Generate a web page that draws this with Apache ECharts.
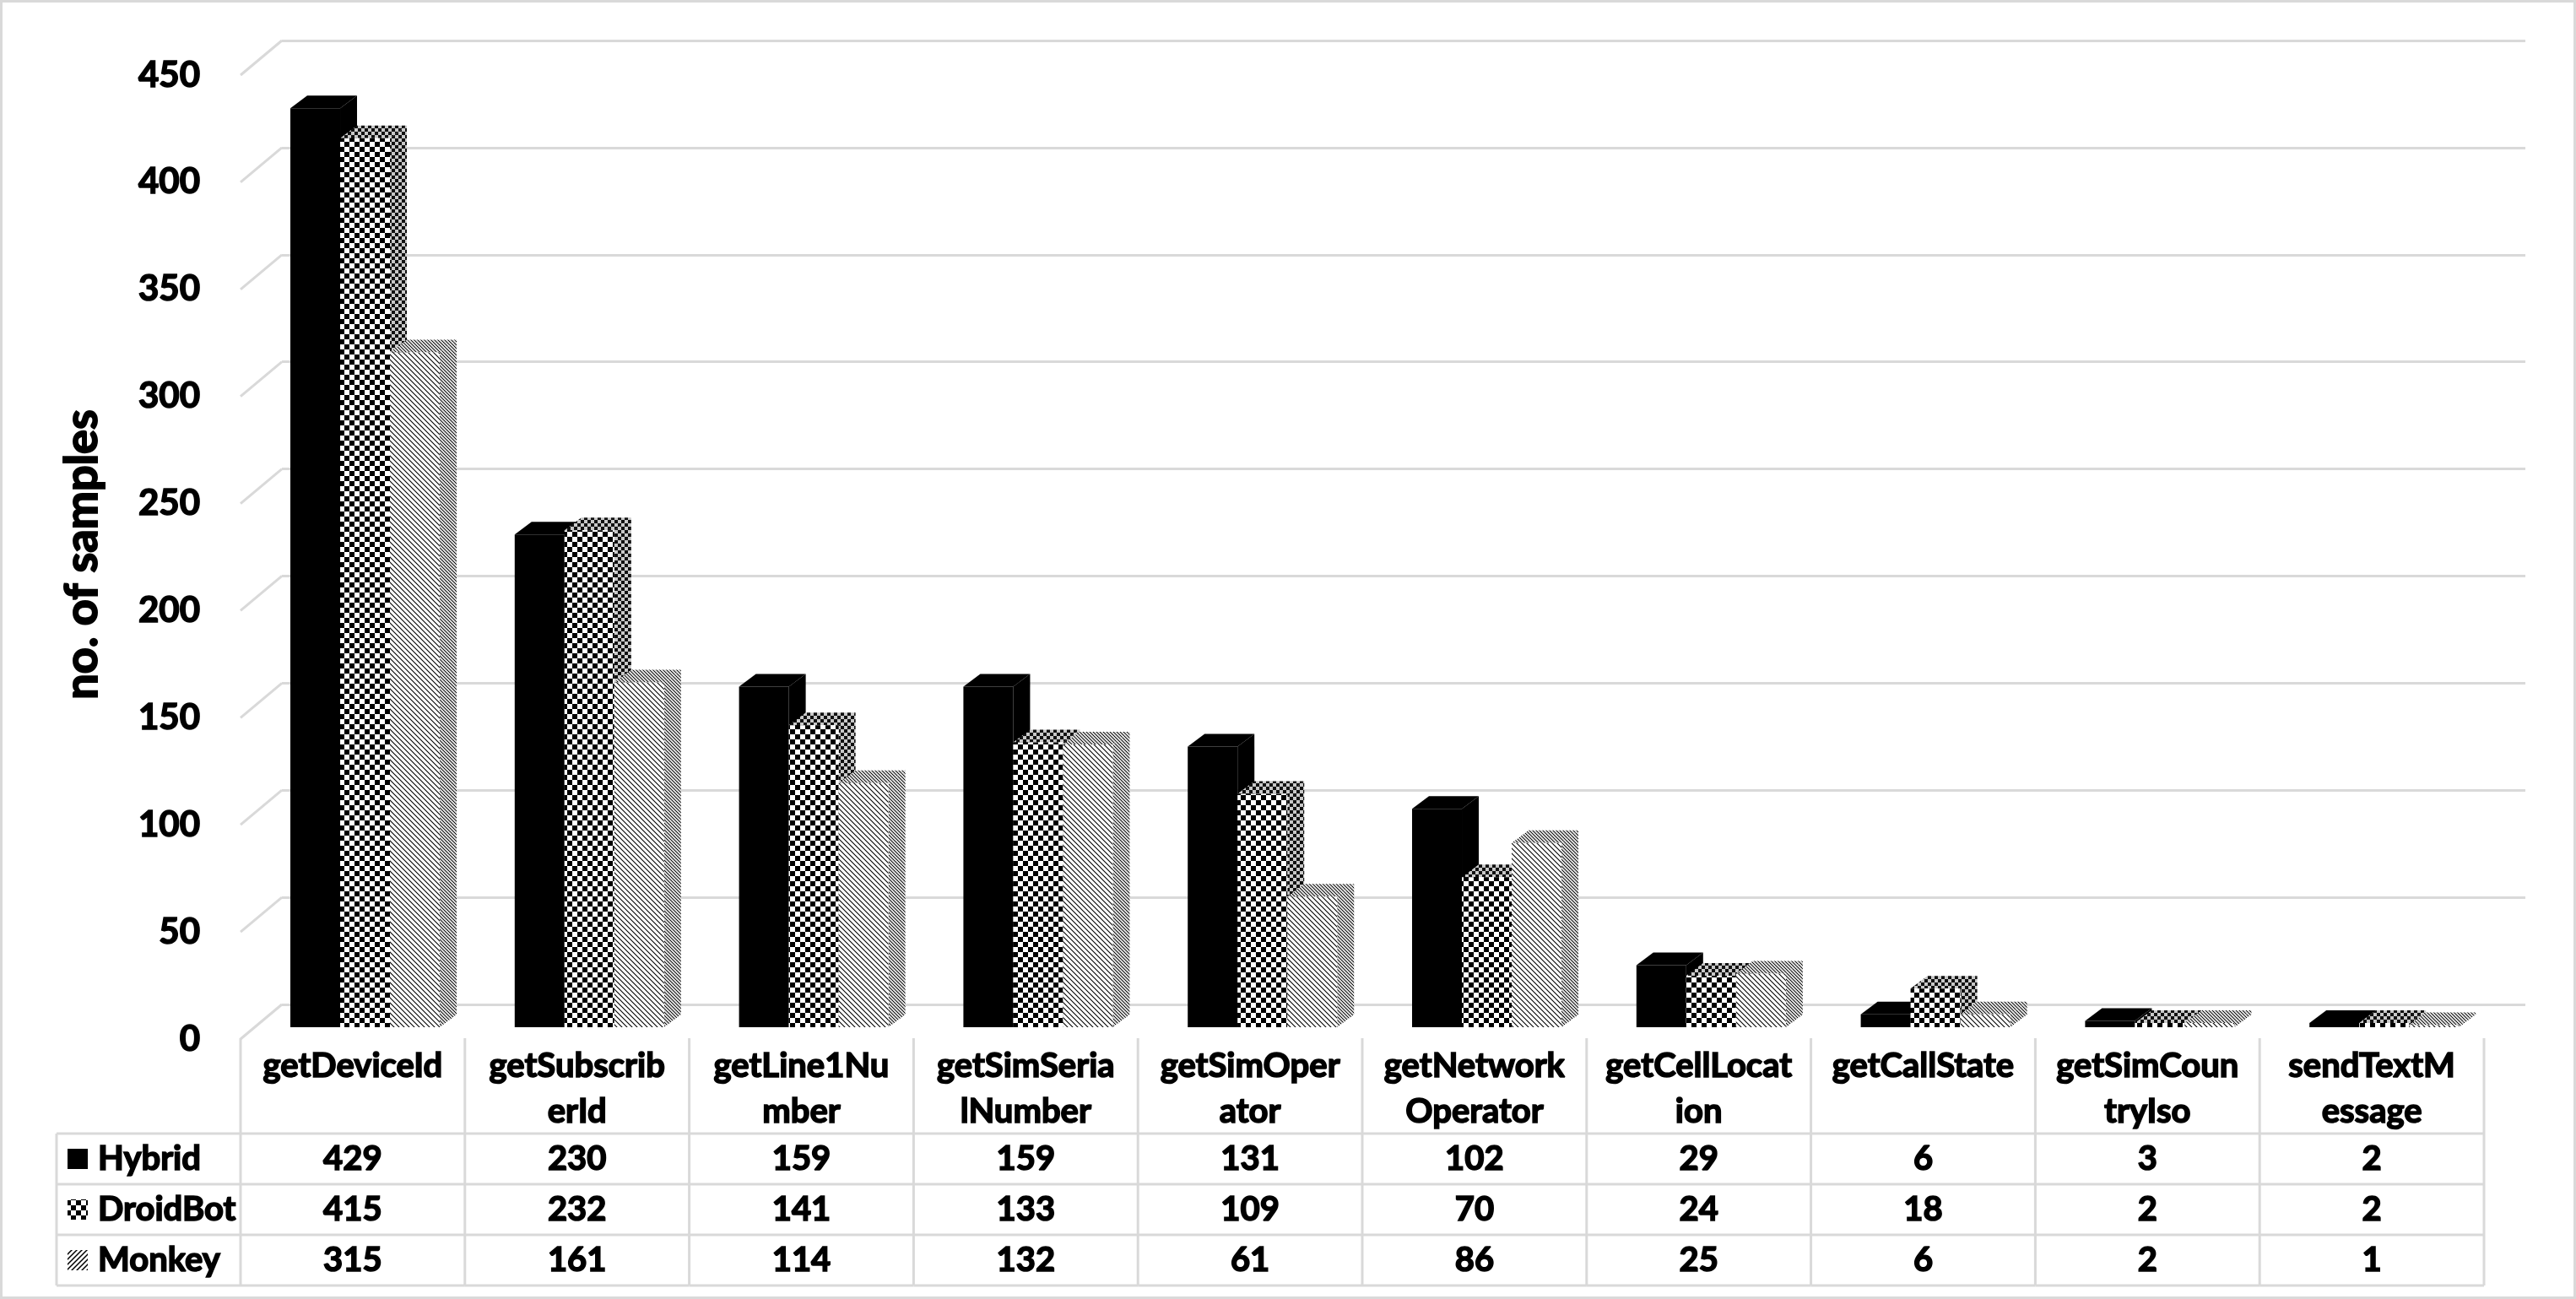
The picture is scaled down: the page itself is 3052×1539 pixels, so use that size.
<!DOCTYPE html>
<html>
<head>
<meta charset="utf-8">
<title>no. of samples</title>
<script src="https://cdn.jsdelivr.net/npm/echarts/dist/echarts.min.js"></script>
<style>
  html, body { margin: 0; padding: 0; background: #fff; }
  #main { width: 3052px; height: 1539px; }
</style>
</head>
<body>
<div id="main"></div>
<script>
// data
const categories = ['getDeviceId', 'getSubscriberId', 'getLine1Number', 'getSimSerialNumber', 'getSimOperator',
  'getNetworkOperator', 'getCellLocation', 'getCallState', 'getSimCountryIso', 'sendTextMessage'];
const headerLabels = ['getDeviceId', 'getSubscrib\nerId', 'getLine1Nu\nmber', 'getSimSeria\nlNumber', 'getSimOper\nator',
  'getNetwork\nOperator', 'getCellLocat\nion', 'getCallState', 'getSimCoun\ntryIso', 'sendTextM\nessage'];
const seriesNames = ['Hybrid', 'DroidBot', 'Monkey'];
const hybrid = [429, 230, 159, 159, 131, 102, 29, 6, 3, 2];
const droidBot = [415, 232, 141, 133, 109, 70, 24, 18, 2, 2];
const monkey = [315, 161, 114, 132, 61, 86, 25, 6, 2, 1];
const yTicks = [0, 50, 100, 150, 200, 250, 300, 350, 400, 450];

const FONT = 'Lato, "Open Sans", "Noto Sans", sans-serif';
const TXT = 'bold 40px ' + FONT;
const HEAVY = 1.6;   // stroke to make the bold text a bit heavier
const GRID_COLOR = '#d9d9d9';

// fill patterns
function makeCanvas(w, h, draw) {
  const c = document.createElement('canvas');
  c.width = w; c.height = h;
  draw(c.getContext('2d'), w, h);
  return c;
}
function pattern(c) { return { image: c, repeat: 'repeat' }; }

const patChecker = pattern(makeCanvas(12, 12, function (ctx) {
  ctx.fillStyle = '#fff'; ctx.fillRect(0, 0, 12, 12);
  ctx.fillStyle = '#000'; ctx.fillRect(0, 0, 6, 6); ctx.fillRect(6, 6, 6, 6);
}));
const patCheckerSide = pattern(makeCanvas(8, 8, function (ctx) {
  ctx.fillStyle = '#c8c8c8'; ctx.fillRect(0, 0, 8, 8);
  ctx.fillStyle = '#111'; ctx.fillRect(0, 0, 4, 4); ctx.fillRect(4, 4, 4, 4);
}));
function stripes(size, bg, lw, forward) {
  return pattern(makeCanvas(size, size, function (ctx) {
    ctx.fillStyle = bg; ctx.fillRect(0, 0, size, size);
    ctx.strokeStyle = '#000'; ctx.lineWidth = lw;
    ctx.beginPath();
    [-size, 0, size, 2 * size].forEach(function (k) {
      if (forward) { ctx.moveTo(k + 1, -1); ctx.lineTo(k - size - 1, size + 1); }
      else { ctx.moveTo(k - 1, -1); ctx.lineTo(k + size + 1, size + 1); }
    });
    ctx.stroke();
  }));
}
const patStripe = stripes(6, '#fff', 1.1, false);
const patStripeFwd = stripes(6, '#fff', 1.5, true);
const patStripeSide = stripes(4, '#d0d0d0', 1, false);

const faces = [
  { front: '#000', top: '#000', side: '#000', key: '#000' },
  { front: patChecker, top: patCheckerSide, side: patCheckerSide, key: patChecker },
  { front: patStripe, top: patStripeSide, side: patStripeSide, key: patStripeFwd }
];

// 3d look
const DEPTH_X = 20, DEPTH_Y = -15;   // bar depth
const BAR_LIFT = 14;                 // bars sit a bit behind the front plane
const WALL_X = 49, WALL_Y = -41;     // back wall offset

// table rows
const HEADER_TOP = 1230, ROW_LINES = [1343, 1403, 1463, 1523];
const ROW_CENTERS = [1373, 1433, 1493];
const LEGEND_LEFT = 67;

function barRenderer(s) {
  return function (params, api) {
    const i = api.value(0), v = api.value(1);
    const c = api.coord([i, v]);
    const base = api.coord([i, 0]);
    const band = api.size([1, 0])[0];
    const w = band * 0.222;
    const x0 = c[0] - band / 2 + w * (s + 1);
    const yT = c[1] - BAR_LIFT, yB = base[1] - BAR_LIFT;
    const f = faces[s];
    return {
      type: 'group',
      children: [
        { type: 'polygon', shape: { points: [[x0, yT], [x0 + DEPTH_X, yT + DEPTH_Y], [x0 + w + DEPTH_X, yT + DEPTH_Y], [x0 + w, yT]] },
          style: { fill: f.top } },
        { type: 'polygon', shape: { points: [[x0 + w, yT], [x0 + w + DEPTH_X, yT + DEPTH_Y], [x0 + w + DEPTH_X, yB + DEPTH_Y], [x0 + w, yB]] },
          style: { fill: f.side } },
        { type: 'rect', shape: { x: x0, y: yT, width: w, height: yB - yT }, style: { fill: f.front } }
      ]
    };
  };
}

function wallRenderer(params, api) {
  const p = api.coord([0, api.value(1)]);
  const left = p[0] - api.size([1, 0])[0] / 2;
  return { type: 'line', shape: { x1: left, y1: p[1], x2: left + WALL_X, y2: p[1] + WALL_Y },
    style: { stroke: GRID_COLOR, lineWidth: 3 } };
}

const allValues = [hybrid, droidBot, monkey];

function textStyle(extra) {
  return Object.assign({ font: TXT, fill: '#000', stroke: '#000', lineWidth: HEAVY }, extra);
}

function tableRenderer(params, api) {
  const i = api.value(0);
  const p = api.coord([i, 0]);
  const band = api.size([1, 0])[0];
  const l = p[0] - band / 2, r = p[0] + band / 2;
  const lineStyle = { stroke: GRID_COLOR, lineWidth: 3 };
  const children = [
    { type: 'line', shape: { x1: l, y1: HEADER_TOP, x2: l, y2: ROW_LINES[3] }, style: lineStyle }
  ];
  if (i === categories.length - 1) {
    children.push({ type: 'line', shape: { x1: r, y1: HEADER_TOP, x2: r, y2: ROW_LINES[3] }, style: lineStyle });
  }
  ROW_LINES.forEach(function (y) {
    children.push({ type: 'line', shape: { x1: l, y1: y, x2: r, y2: y }, style: lineStyle });
  });
  children.push({ type: 'text', style: textStyle({ text: headerLabels[i], x: p[0], y: HEADER_TOP + 6, align: 'center',
    verticalAlign: 'top', lineHeight: 54 }) });
  allValues.forEach(function (arr, s) {
    children.push({ type: 'text', style: textStyle({ text: String(arr[i]), x: p[0], y: ROW_CENTERS[s], align: 'center',
      verticalAlign: 'middle' }) });
  });
  return { type: 'group', children: children };
}

// legend column of the data table
const graphics = [
  { type: 'rect', shape: { x: 1.5, y: 1.5, width: 3049, height: 1536 }, style: { fill: 'none', stroke: GRID_COLOR, lineWidth: 3 } },
  { type: 'line', shape: { x1: LEGEND_LEFT, y1: ROW_LINES[0], x2: LEGEND_LEFT, y2: ROW_LINES[3] }, style: { stroke: GRID_COLOR, lineWidth: 3 } },
  { type: 'text', x: 98, y: 657, rotation: Math.PI / 2,
    style: { text: 'no. of samples', align: 'center', verticalAlign: 'middle', font: 'bold 54px ' + FONT, fill: '#000',
      stroke: '#000', lineWidth: 2 } }
];
ROW_LINES.forEach(function (y) {
  graphics.push({ type: 'line', shape: { x1: LEGEND_LEFT, y1: y, x2: 285, y2: y }, style: { stroke: GRID_COLOR, lineWidth: 3 } });
});
seriesNames.forEach(function (name, s) {
  graphics.push({ type: 'rect', shape: { x: 80, y: ROW_CENTERS[s] - 12, width: 24, height: 24 }, style: { fill: faces[s].key } });
  graphics.push({ type: 'text', x: 116, y: ROW_CENTERS[s], style: textStyle({ text: name, align: 'left', verticalAlign: 'middle' }) });
});

const chart = echarts.init(document.getElementById('main'), null, { renderer: 'canvas' });

const option = {
  backgroundColor: '#fff',
  animation: false,
  grid: [
    { left: 285, top: 89, width: 2658, height: 1142, outerBoundsMode: 'none' },
    { left: 285 + WALL_X, top: 89 + WALL_Y, width: 2658, height: 1142, outerBoundsMode: 'none' }
  ],
  xAxis: [
    { type: 'category', gridIndex: 0, data: categories, show: false },
    { type: 'category', gridIndex: 1, data: categories, show: false }
  ],
  yAxis: [
    { type: 'value', gridIndex: 0, min: 0, max: 450, interval: 50,
      axisLine: { show: false }, axisTick: { show: false }, splitLine: { show: false },
      axisLabel: { margin: 48, color: '#000', fontFamily: FONT, fontWeight: 'bold', fontSize: 42,
        textBorderColor: '#000', textBorderWidth: HEAVY } },
    { type: 'value', gridIndex: 1, min: 0, max: 450, interval: 50,
      axisLine: { show: false }, axisTick: { show: false }, axisLabel: { show: false },
      splitLine: { show: true, lineStyle: { color: GRID_COLOR, width: 3 } } }
  ],
  graphic: graphics,
  series: [
    { type: 'custom', name: 'wall', xAxisIndex: 0, yAxisIndex: 0, silent: true,
      renderItem: wallRenderer, data: yTicks.map(function (t) { return [0, t]; }) },
    { type: 'custom', name: 'table', xAxisIndex: 0, yAxisIndex: 0, silent: true,
      renderItem: tableRenderer, data: categories.map(function (c, i) { return [i, 0]; }) }
  ].concat(allValues.map(function (arr, s) {
    return { type: 'custom', name: seriesNames[s], xAxisIndex: 0, yAxisIndex: 0,
      renderItem: barRenderer(s), data: arr.map(function (v, i) { return [i, v]; }) };
  }))
};

chart.setOption(option);
</script>
</body>
</html>
